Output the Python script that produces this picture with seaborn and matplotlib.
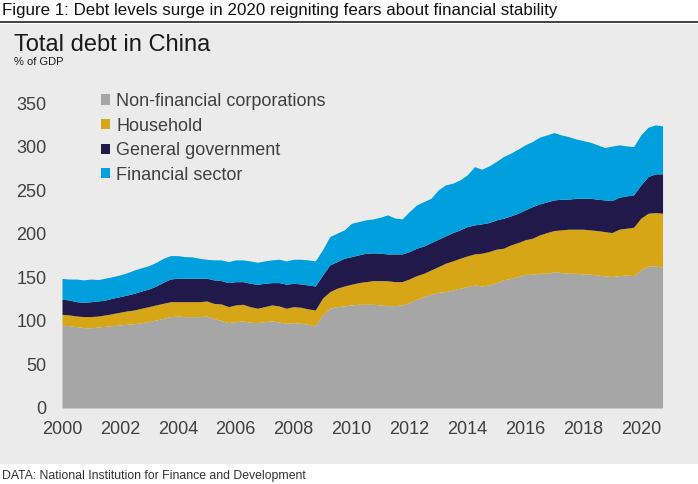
import numpy as np
import pandas as pd
import matplotlib
matplotlib.use("Agg")
import matplotlib.pyplot as plt
from matplotlib.patches import Patch, Rectangle
from matplotlib.lines import Line2D
import seaborn as sns

# quarterly readings, % of GDP, 2000Q1 .. 2020Q4
YEARS = list(range(2000, 2021))
QUARTER_OFFSETS = [0.0, 0.25, 0.5, 0.75]

non_financial = [
    95.0, 94.5, 93.4, 92.2,
    92.0, 93.0, 93.8, 94.5,
    95.3, 96.1, 96.8, 98.0,
    99.1, 101.0, 103.0, 104.8,
    105.6, 104.8, 104.8, 104.8,
    105.6, 102.6, 100.3, 98.0,
    99.1, 99.9, 98.4, 98.0,
    99.1, 99.9, 98.7, 97.2,
    98.0, 97.2, 96.1, 94.1,
    106.8, 114.5, 116.3, 117.1,
    118.3, 119.0, 119.0, 119.0,
    118.3, 117.5, 117.5, 118.3,
    120.9, 124.8, 127.8, 130.5,
    132.8, 133.5, 135.5, 137.4,
    139.3, 141.2, 140.0, 141.2,
    143.9, 147.0, 148.9, 150.8,
    153.3, 153.5, 154.6, 154.6,
    156.5, 155.4, 154.6, 154.6,
    153.8, 153.5, 152.7, 151.5,
    150.8, 151.9, 152.7, 151.9,
    158.4, 163.0, 163.0, 161.5,
]
household = [
    12.5, 12.3, 12.2, 12.7,
    12.9, 12.6, 13.0, 13.8,
    14.6, 15.3, 15.7, 16.5,
    17.2, 17.3, 17.2, 17.2,
    16.4, 17.2, 17.2, 17.2,
    17.2, 17.4, 19.1, 18.3,
    19.2, 19.1, 17.9, 16.5,
    17.2, 18.4, 18.4, 17.3,
    18.3, 18.4, 17.6, 18.4,
    19.2, 19.0, 21.1, 22.9,
    23.7, 24.9, 26.0, 27.2,
    27.9, 28.5, 27.5, 26.7,
    27.2, 27.1, 26.8, 27.9,
    29.4, 32.6, 33.3, 34.4,
    35.2, 35.6, 37.6, 38.3,
    38.3, 36.3, 38.2, 39.0,
    39.7, 41.3, 44.0, 46.7,
    47.1, 49.0, 50.6, 50.6,
    51.4, 50.9, 50.9, 50.9,
    50.5, 53.3, 53.6, 55.6,
    59.4, 60.5, 61.2, 62.0,
]
government = [
    17.3, 17.2, 16.4, 16.4,
    17.1, 17.2, 17.2, 17.7,
    17.9, 18.3, 19.2, 19.8,
    20.3, 21.7, 24.1, 26.1,
    26.9, 26.9, 26.9, 26.9,
    26.1, 27.0, 26.8, 27.6,
    26.7, 26.0, 26.8, 27.5,
    26.8, 25.6, 26.8, 27.5,
    26.8, 26.8, 27.5, 27.5,
    26.5, 30.7, 30.6, 31.8,
    31.7, 31.8, 32.6, 31.8,
    31.4, 30.8, 31.8, 31.8,
    31.4, 31.4, 31.4, 31.4,
    31.5, 31.4, 32.5, 32.6,
    33.7, 33.3, 33.7, 33.3,
    33.6, 34.5, 33.3, 33.7,
    34.3, 36.3, 35.6, 35.2,
    35.2, 35.2, 34.4, 35.5,
    35.5, 36.3, 36.0, 36.4,
    36.7, 36.7, 37.1, 37.1,
    38.2, 42.1, 44.5, 45.2,
]
financial = [
    23.9, 24.0, 26.0, 25.7,
    26.0, 24.6, 25.0, 24.8,
    24.9, 25.6, 26.7, 26.7,
    26.8, 27.2, 27.5, 26.8,
    26.0, 24.8, 24.5, 22.9,
    21.8, 23.0, 23.8, 24.1,
    25.0, 25.0, 25.7, 25.2,
    25.7, 26.1, 26.8, 26.8,
    27.6, 28.3, 28.8, 28.8,
    28.9, 32.5, 32.6, 32.6,
    38.3, 38.2, 38.4, 39.0,
    41.4, 44.8, 41.2, 40.2,
    45.9, 49.7, 50.9, 50.9,
    56.6, 58.5, 56.7, 57.4,
    59.3, 66.9, 62.7, 65.0,
    67.0, 70.7, 72.0, 73.5,
    74.7, 74.7, 76.6, 76.9,
    77.3, 73.8, 71.9, 68.1,
    66.2, 64.3, 62.4, 60.1,
    62.5, 60.1, 57.4, 55.4,
    57.4, 56.6, 56.2, 55.1,
]

SECTORS = ["Non-financial corporations", "Household",
           "General government", "Financial sector"]
COLORS = ["#a6a6a6", "#d6a616", "#21194a", "#009fdd"]
PANEL = "#ebebeb"

quarters = [y + q for y in YEARS for q in QUARTER_OFFSETS]
df = pd.concat([
    pd.DataFrame({"quarter": quarters, "sector": name, "debt": vals})
    for name, vals in zip(SECTORS, [non_financial, household, government, financial])
], ignore_index=True)

sns.set_theme(style="white")
plt.rcParams["font.family"] = ["Liberation Sans", "DejaVu Sans"]

W, H = 698, 484
fig = plt.figure(figsize=(W / 100, H / 100), dpi=100)
fig.patch.set_facecolor("white")

# grey panel and the rule under the caption
fig.add_artist(Rectangle((0, 1 - 464 / H), 1, 440 / H, transform=fig.transFigure,
                         facecolor=PANEL, edgecolor="none", zorder=0))
fig.add_artist(Line2D([0, 1], [1 - 21.5 / H] * 2, transform=fig.transFigure,
                      color="#333333", lw=1.3))

ax = fig.add_axes([62 / W, 1 - 408 / H, 602 / W, 305 / H])
ax.set_facecolor("none")

# stacked areas: seaborn stacks the last hue level at the bottom
edges = [q - 0.125 for q in quarters] + [quarters[-1] + 0.125]
sns.histplot(data=df, x="quarter", weights="debt", hue="sector",
             hue_order=SECTORS[::-1], palette=dict(zip(SECTORS, COLORS)),
             bins=edges, element="poly", multiple="stack", fill=True,
             alpha=1, linewidth=0, legend=False, ax=ax)

ax.set_xlim(2000, 2020.8)
ax.set_ylim(0, 350)
ax.set_xticks(range(2000, 2021, 2))
ax.set_yticks(range(0, 351, 50))
ax.set_xlabel("")
ax.set_ylabel("")
ax.tick_params(axis="both", length=0, labelsize=13, colors="#404040")
ax.tick_params(axis="x", pad=9)
ax.tick_params(axis="y", pad=11)
for s in ax.spines.values():
    s.set_visible(False)
ax.grid(False)

handles = [Patch(facecolor=c, edgecolor="none") for c in COLORS]
ax.legend(handles, SECTORS, loc="upper left", bbox_to_anchor=(101 / W, 1 - 93 / H),
          bbox_transform=fig.transFigure, frameon=False, fontsize=13,
          handlelength=0.5, handleheight=0.5, handletextpad=0.35,
          labelspacing=0.42, borderpad=0, borderaxespad=0, labelcolor="#404040")

fig.text(2 / W, 1 - 10 / H,
         "Figure 1: Debt levels surge in 2020 reigniting fears about financial stability",
         fontsize=12.2, color="#111111", va="center", ha="left")
fig.text(14 / W, 1 - 45 / H, "Total debt in China", fontsize=17,
         color="#1a1a1a", va="center", ha="left")
fig.text(14 / W, 1 - 62 / H, "% of GDP", fontsize=8, color="#1a1a1a",
         va="center", ha="left")
fig.text(2 / W, 1 - 476 / H, "DATA: National Institution for Finance and Development",
         fontsize=8.8, color="#333333", va="center", ha="left")

fig.savefig("out.png", dpi=100)
